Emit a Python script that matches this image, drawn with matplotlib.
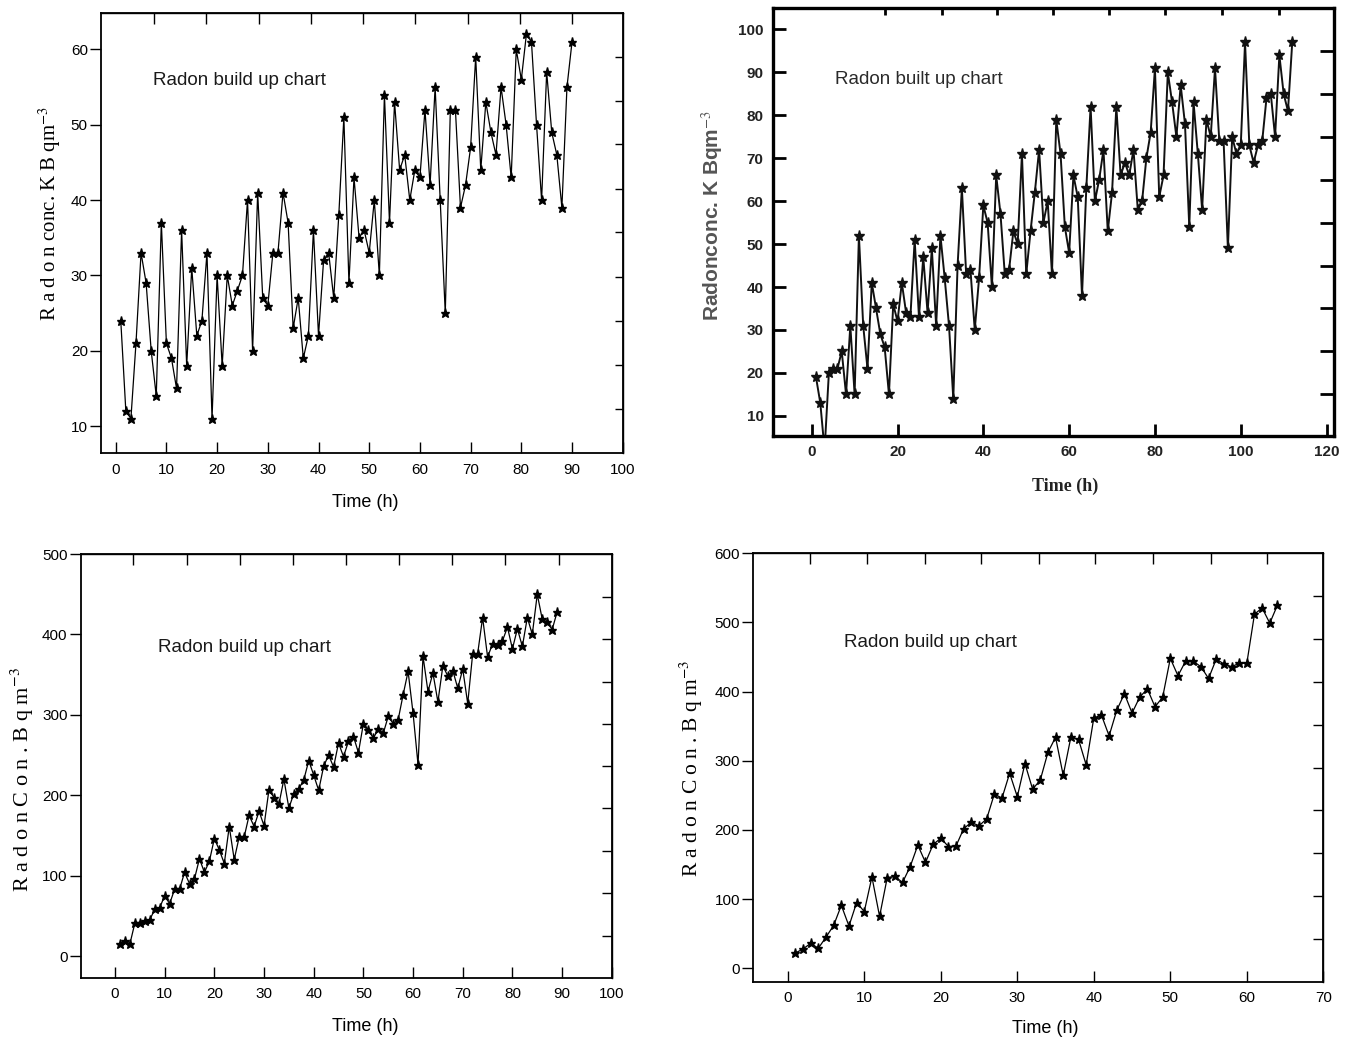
import matplotlib
matplotlib.use("Agg")
import matplotlib.pyplot as plt

plt.rcParams['font.family'] = ['Liberation Sans', 'DejaVu Sans']
plt.rcParams['mathtext.fontset'] = 'stix'

# === DATA ===
hours_a = list(range(1, 91))
radon_a = [24, 12, 11, 21, 33, 29, 20, 14, 37, 21,
           19, 15, 36, 18, 31, 22, 24, 33, 11, 30,
           18, 30, 26, 28, 30, 40, 20, 41, 27, 26,
           33, 33, 41, 37, 23, 27, 19, 22, 36, 22,
           32, 33, 27, 38, 51, 29, 43, 35, 36, 33,
           40, 30, 54, 37, 53, 44, 46, 40, 44, 43,
           52, 42, 55, 40, 25, 52, 52, 39, 42, 47,
           59, 44, 53, 49, 46, 55, 50, 43, 60, 56,
           62, 61, 50, 40, 57, 49, 46, 39, 55, 61]

hours_b = list(range(1, 113))
radon_b = [19, 13, 2, 20, 21, 21, 25, 15, 31, 15,
           52, 31, 21, 41, 35, 29, 26, 15, 36, 32,
           41, 34, 33, 51, 33, 47, 34, 49, 31, 52,
           42, 31, 14, 45, 63, 43, 44, 30, 42, 59,
           55, 40, 66, 57, 43, 44, 53, 50, 71, 43,
           53, 62, 72, 55, 60, 43, 79, 71, 54, 48,
           66, 61, 38, 63, 82, 60, 65, 72, 53, 62,
           82, 66, 69, 66, 72, 58, 60, 70, 76, 91,
           61, 66, 90, 83, 75, 87, 78, 54, 83, 71,
           58, 79, 75, 91, 74, 74, 49, 75, 71, 73,
           97, 73, 69, 73, 74, 84, 85, 75, 94, 85,
           81, 97]

hours_c = list(range(1, 90))
radon_c = [15, 19, 15, 41, 41, 43, 45, 58, 60, 75,
           65, 83, 83, 104, 90, 96, 121, 104, 118, 146,
           132, 115, 161, 120, 148, 148, 175, 161, 180, 162,
           207, 197, 189, 220, 184, 202, 208, 219, 243, 225,
           206, 236, 250, 235, 265, 248, 267, 273, 253, 289,
           281, 271, 282, 277, 298, 289, 294, 325, 354, 302,
           238, 373, 329, 352, 316, 361, 348, 355, 333, 357,
           314, 376, 376, 421, 372, 388, 387, 392, 409, 382,
           407, 385, 421, 400, 450, 419, 415, 406, 428]

hours_d = list(range(1, 65))
radon_d = [22, 28, 36, 29, 45, 62, 91, 61, 95, 82,
           132, 75, 131, 133, 124, 147, 178, 153, 179, 188,
           176, 177, 202, 211, 206, 216, 252, 246, 282, 248,
           296, 259, 272, 312, 334, 279, 334, 331, 294, 362,
           366, 336, 373, 397, 369, 392, 404, 378, 392, 448,
           423, 444, 444, 436, 419, 447, 440, 436, 441, 441,
           512, 521, 499, 525]


# === HELPERS ===
def extra_ticks(ax, top, right, lw, top_len, right_len):
    # unlabelled ticks on top/right frame, placed like the original scans
    sx = ax.secondary_xaxis('top')
    sx.set_xticks(top)
    sx.set_xticklabels([])
    sx.tick_params(direction='in', length=top_len, width=lw)
    sx.spines['top'].set_linewidth(lw)
    sy = ax.secondary_yaxis('right')
    sy.set_yticks(right)
    sy.set_yticklabels([])
    sy.tick_params(direction='in', length=right_len, width=lw)
    sy.spines['right'].set_linewidth(lw)


def plain_panel(ax, x, y, xlim, ylim, xticks, yticks, ylabel, ylab_size,
                title_pos, xlab_pos, ylab_pos):
    ax.plot(x, y, color='black', lw=0.9, marker='*', ms=6.5, mfc='black', mec='black')
    ax.set_xlim(*xlim)
    ax.set_ylim(*ylim)
    ax.set_xticks(xticks)
    ax.set_yticks(yticks)
    ax.tick_params(axis='y', direction='out', length=8, width=1, pad=1.5, labelsize=11)
    ax.tick_params(axis='x', direction='in', length=8, width=1, pad=7, labelsize=11)
    for s in ax.spines.values():
        s.set_linewidth(1.3)
    ax.text(title_pos[0], title_pos[1], 'Radon build up chart', transform=ax.transAxes,
            ha='center', va='center', fontsize=13.5, color='#1a1a1a')
    ax.set_xlabel('Time (h)', fontsize=13)
    ax.xaxis.set_label_coords(*xlab_pos)
    ax.xaxis.label.set_verticalalignment('center')
    ax.set_ylabel(ylabel, fontsize=ylab_size, family=['Liberation Serif', 'DejaVu Serif'])
    ax.yaxis.set_label_coords(*ylab_pos)
    ax.yaxis.label.set_verticalalignment('center')


fig = plt.figure(figsize=(13.52, 10.42), dpi=100)

# === TOP LEFT ===
ax1 = fig.add_axes([0.0747, 0.5650, 0.3859, 0.4223])
plain_panel(ax1, hours_a, radon_a, (-2.9, 100), (6.4, 64.8),
            range(0, 101, 10), range(10, 61, 10),
            'R a d o n conc. K B qm$^{-3}$', 15,
            (0.2645, 0.846), (0.506, -0.111), (-0.098, 0.545))
extra_ticks(ax1, [7.6, 17.9, 28.2, 38.5, 48.8, 59.1, 69.4, 79.7, 90.0],
            [59.0, 53.2, 47.4, 41.5, 35.7, 29.8, 24.0, 18.1, 12.3], 1, 8, 6)

# === TOP RIGHT (scanned, bold style) ===
ax2 = fig.add_axes([0.5715, 0.5816, 0.4154, 0.4107])
ax2.plot(hours_b, radon_b, color='#111111', lw=1.4, marker='*', ms=8, mfc='#111111', mec='#111111')
ax2.set_xlim(-9.1, 121.8)
ax2.set_ylim(5.3, 105)
ax2.set_xticks(range(0, 121, 20))
ax2.set_yticks(range(10, 101, 10))
ax2.tick_params(axis='both', direction='in', length=9, width=2, pad=6.5, labelsize=11)
for lab in ax2.get_xticklabels() + ax2.get_yticklabels():
    lab.set_fontweight('bold')
    lab.set_color('#222222')
for s in ax2.spines.values():
    s.set_linewidth(2.4)
ax2.text(0.2605, 0.832, 'Radon built up chart', transform=ax2.transAxes,
         ha='center', va='center', fontsize=13.5, color='#2a2a2a')
ax2.set_xlabel('Time (h)', fontsize=13, fontweight='bold', family=['Liberation Serif', 'DejaVu Serif'],
               color='#222222')
ax2.xaxis.set_label_coords(0.520, -0.117)
ax2.xaxis.label.set_verticalalignment('center')
ax2.set_ylabel('Radonconc. K Bqm$^{-3}$', fontsize=15, fontweight='bold', color='#555555')
ax2.yaxis.set_label_coords(-0.108, 0.516)
ax2.yaxis.label.set_verticalalignment('center')
extra_ticks(ax2, [17.1, 30.3, 43.1, 56.3, 69.4, 82.4, 95.6, 108.8],
            [95, 85, 75, 65, 55, 45, 35, 25, 15], 2, 5, 10)

# === BOTTOM LEFT ===
ax3 = fig.add_axes([0.0597, 0.0617, 0.3928, 0.4066])
plain_panel(ax3, hours_c, radon_c, (-6.9, 100), (-27, 500),
            range(0, 101, 10), range(0, 501, 100),
            'R a d o n C o n . B q m$^{-3}$', 16,
            (0.309, 0.780), (0.535, -0.116), (-0.1105, 0.467))
extra_ticks(ax3, [3.7, 14.4, 25.1, 35.8, 46.5, 57.2, 67.9, 78.6, 89.3],
            [447, 394, 341, 289, 236, 184, 131, 78, 25], 1, 8, 7)

# === BOTTOM RIGHT ===
ax4 = fig.add_axes([0.5572, 0.0579, 0.4216, 0.4111])
plain_panel(ax4, hours_d, radon_d, (-4.5, 70), (-19.4, 600),
            range(0, 71, 10), range(0, 601, 100),
            'R a d o n C o n . B q m$^{-3}$', 15.5,
            (0.310, 0.791), (0.512, -0.110), (-0.109, 0.499))
extra_ticks(ax4, [2.9, 10.4, 17.9, 25.3, 32.8, 40.2, 47.8, 55.3, 62.7],
            [538, 476, 414, 352, 290, 229, 167, 105, 43], 1, 8, 7)

fig.savefig('out.png', dpi=100)
